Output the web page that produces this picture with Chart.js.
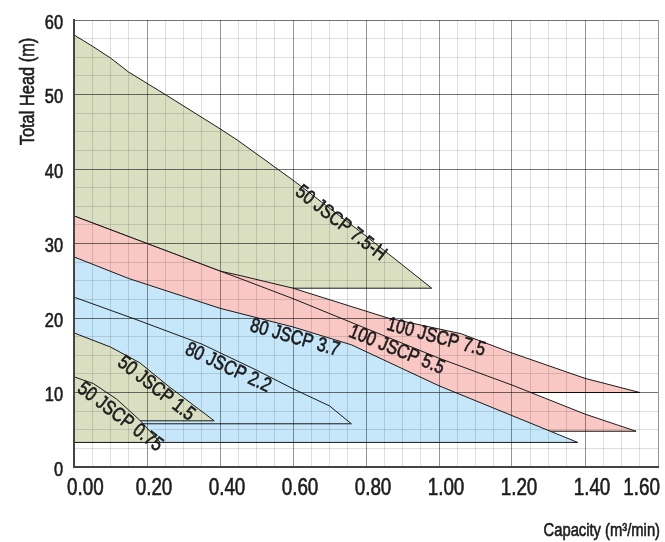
<!DOCTYPE html>
<html>
<head>
<meta charset="utf-8">
<script src="https://cdn.jsdelivr.net/npm/chart.js@4.4.1/dist/chart.umd.min.js"></script>
<style>
  html, body { margin: 0; padding: 0; background: #fff; }
  canvas { display: block; }
</style>
</head>
<body>
<canvas id="pumpChart" width="665" height="542"></canvas>
<script>
// Pump ranges: capacity (m3/min) against total head (m)
const xTicks = [0, 0.2, 0.4, 0.6, 0.8, 1.0, 1.2, 1.4, 1.6];
const yTicks = [0, 10, 20, 30, 40, 50, 60];

// 50 JSCP 7.5-H
const q50_75H = [0, 0.05, 0.10, 0.15, 0.20, 0.25, 0.40, 0.45, 0.60, 0.80, 0.98];
const h50_75H = [58.0, 56.5, 54.9, 53.0, 51.5, 50.0, 45.4, 43.8, 38.5, 31.0, 24.0];
const base50_75H = 24.0;

// 100 JSCP 7.5
const q100_75 = [0, 0.20, 0.40, 0.455, 0.60, 0.86, 1.06, 1.20, 1.40, 1.55];
const h100_75 = [33.7, 30.0, 26.3, 25.7, 24.0, 20.0, 17.9, 15.3, 11.9, 10.0];
const base100_75 = 10.0;

// 100 JSCP 5.5
const q100_55 = [0, 0.20, 0.40, 0.455, 0.60, 1.00, 1.20, 1.40, 1.54];
const h100_55 = [33.7, 30.0, 26.3, 25.3, 22.6, 14.6, 11.0, 7.1, 4.8];
const base100_55 = 4.8;

// 80 JSCP 3.7
const q80_37 = [0, 0.15, 0.20, 0.40, 0.60, 0.76, 1.00, 1.20, 1.38];
const h80_37 = [28.2, 25.3, 24.5, 21.3, 18.8, 16.4, 10.9, 6.9, 3.3];
const base80_37 = 3.3;

// 80 JSCP 2.2
const q80_22 = [0, 0.17, 0.35, 0.50, 0.60, 0.70, 0.76];
const h80_22 = [22.8, 19.8, 16.5, 13.0, 10.5, 8.2, 5.8];
const base80_22 = 5.8;

// 50 JSCP 1.5
const q50_15 = [0, 0.10, 0.18, 0.26, 0.384];
const h50_15 = [18.0, 16.1, 14.0, 10.8, 6.2];
const base50_15 = 6.2;

// 50 JSCP 0.75
const q50_075 = [0, 0.053, 0.117, 0.18, 0.236];
const h50_075 = [12.1, 11.2, 9.1, 6.3, 3.3];
const base50_075 = 3.3;

const OLIVE = '#dadfc1';
const PINK = '#f9c8c4';
const BLUE = '#c5e7f9';

// listed bottom layer first
const series = [
  { label: '50 JSCP 7.5-H', q: q50_75H, h: h50_75H, base: base50_75H, color: OLIVE },
  { label: '100 JSCP 7.5', q: q100_75, h: h100_75, base: base100_75, color: PINK },
  { label: '100 JSCP 5.5', q: q100_55, h: h100_55, base: base100_55, color: PINK },
  { label: '80 JSCP 3.7', q: q80_37, h: h80_37, base: base80_37, color: BLUE },
  { label: '80 JSCP 2.2', q: q80_22, h: h80_22, base: base80_22, color: BLUE },
  { label: '50 JSCP 1.5', q: q50_15, h: h50_15, base: base50_15, color: OLIVE },
  { label: '50 JSCP 0.75', q: q50_075, h: h50_075, base: base50_075, color: OLIVE }
];

// where each model name sits (data coords) and its slant in degrees
const labelLayout = [
  { text: '50 JSCP 7.5-H', q: 0.731, h: 32.7, angle: 38 },
  { text: '100 JSCP 7.5', q: 0.992, h: 17.4, angle: 15 },
  { text: '100 JSCP 5.5', q: 0.884, h: 15.7, angle: 22 },
  { text: '80 JSCP 3.7', q: 0.605, h: 17.3, angle: 16 },
  { text: '80 JSCP 2.2', q: 0.422, h: 13.3, angle: 25 },
  { text: '50 JSCP 1.5', q: 0.225, h: 10.5, angle: 38 },
  { text: '50 JSCP 0.75', q: 0.126, h: 6.7, angle: 37 }
];

const NARROW = 0.82; // squeeze Liberation Sans to look condensed
const TEXT_COLOR = '#1c1c1c';

function drawText(ctx, text, x, y, size, angle, align, baseline) {
  ctx.save();
  ctx.translate(x, y);
  ctx.rotate(angle * Math.PI / 180);
  ctx.scale(NARROW, 1);
  ctx.font = size + 'px "Liberation Sans", Arial, sans-serif';
  ctx.fillStyle = TEXT_COLOR;
  ctx.strokeStyle = TEXT_COLOR;
  ctx.lineWidth = 0.6; // a touch heavier, like the printed chart
  ctx.textAlign = align || 'center';
  ctx.textBaseline = baseline || 'alphabetic';
  ctx.fillText(text, 0, 0);
  ctx.strokeText(text, 0, 0);
  ctx.restore();
}

function textWidth(ctx, text, size) {
  ctx.save();
  ctx.font = size + 'px "Liberation Sans", Arial, sans-serif';
  const w = ctx.measureText(text).width * NARROW;
  ctx.restore();
  return w;
}

const isMultiple = (v, step) => Math.abs(v / step - Math.round(v / step)) < 1e-6;

const textPlugin = {
  id: 'chartText',
  afterDraw(chart) {
    const { ctx, chartArea } = chart;
    const xs = chart.scales.x;
    const ys = chart.scales.y;

    // x tick labels, nudged right, kept inside the canvas
    xTicks.forEach(v => {
      const txt = v.toFixed(2);
      const w = textWidth(ctx, txt, 23);
      let cx = xs.getPixelForValue(v) + 7;
      cx = Math.max(cx, chartArea.left - 7 + w / 2);
      cx = Math.min(cx, chart.width - 5 - w / 2);
      drawText(ctx, txt, cx, chartArea.bottom + 28, 23, 0, 'center');
    });

    // y tick labels
    yTicks.forEach(v => {
      drawText(ctx, String(v), chartArea.left - 11, ys.getPixelForValue(v) + 8.5, 20, 0, 'right');
    });

    // axis titles
    drawText(ctx, 'Total Head (m)', 34, 91.5, 20, -90, 'center');
    drawText(ctx, 'Capacity (m³/min)', chart.width - 5, 536, 18, 0, 'right');

    // model names along the curves
    labelLayout.forEach(l => {
      drawText(ctx, l.text, xs.getPixelForValue(l.q), ys.getPixelForValue(l.h), 20, l.angle, 'center', 'middle');
    });
  }
};

const datasets = series.map((s, i) => {
  const pts = s.q.map((q, k) => ({ x: q, y: s.h[k] }));
  pts.push({ x: 0, y: s.base }); // run back along the minimum head line
  return {
    label: s.label,
    data: pts,
    borderColor: '#1a1a1a',
    borderWidth: 1,
    backgroundColor: s.color,
    fill: 'shape',
    pointRadius: 0,
    tension: 0,
    order: series.length - i
  };
});

new Chart(document.getElementById('pumpChart'), {
  type: 'line',
  data: { datasets },
  options: {
    responsive: false,
    animation: false,
    layout: { padding: { left: 74, right: 7, top: 20, bottom: 75 } },
    plugins: {
      legend: { display: false },
      tooltip: { enabled: false }
    },
    scales: {
      x: {
        type: 'linear',
        min: 0,
        max: 1.6,
        ticks: { display: false, stepSize: 0.05, autoSkip: false },
        grid: {
          z: 1,
          drawTicks: false,
          lineWidth: 1,
          color: c => isMultiple(c.tick.value, 0.2) ? 'rgba(0,0,0,0.42)' : 'rgba(0,0,0,0.13)'
        },
        border: { display: true, color: '#444', width: 2, z: 2 }
      },
      y: {
        type: 'linear',
        min: 0,
        max: 60,
        ticks: { display: false, stepSize: 2.5, autoSkip: false },
        grid: {
          z: 1,
          drawTicks: false,
          lineWidth: 1,
          color: c => isMultiple(c.tick.value, 10) ? 'rgba(0,0,0,0.55)' : 'rgba(0,0,0,0.13)'
        },
        border: { display: true, color: '#444', width: 2, z: 2 }
      }
    }
  },
  plugins: [textPlugin]
});
</script>
</body>
</html>
